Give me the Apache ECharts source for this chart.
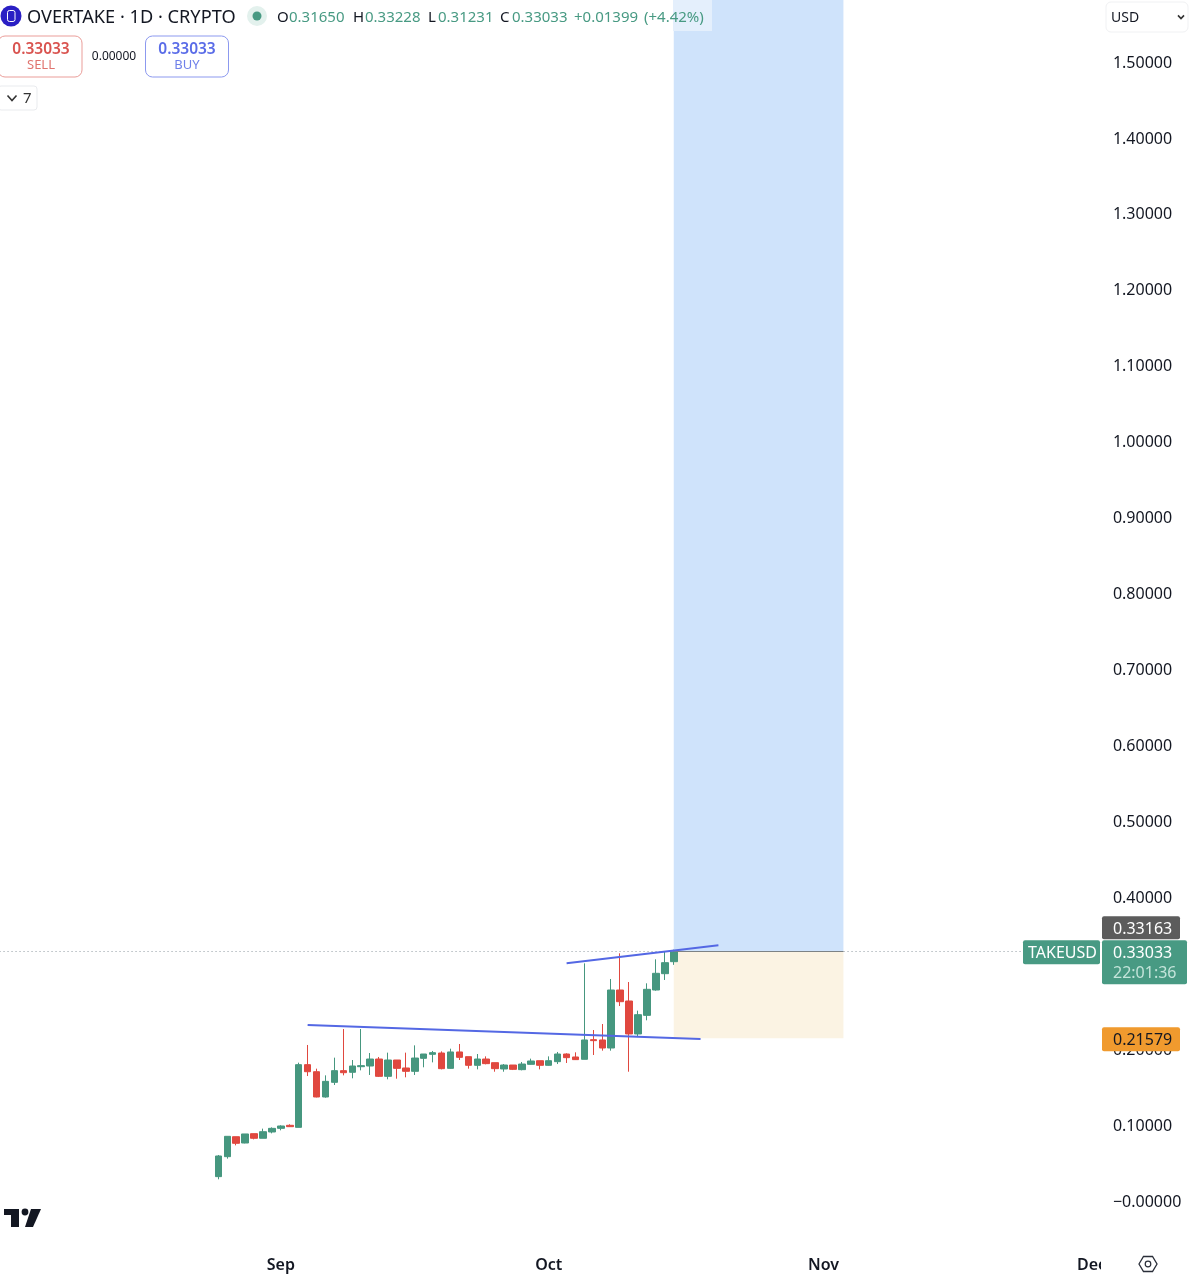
<!DOCTYPE html>
<html>
<head>
<meta charset="utf-8">
<style>html,body{margin:0;padding:0;background:#fff}#c{width:1193px;height:1280px}</style>
<script src="https://cdn.jsdelivr.net/npm/echarts@6/dist/echarts.min.js"></script>
</head>
<body>
<div id="c"></div>
<script>
// ---------- data ----------
const leadDays = 24;           // empty days before the first candle (Aug 1 .. Aug 24)
const firstDay = Date.UTC(2025, 7, 1);
const dayCount = 123;
const monthTicks = { '09-01': 'Sep', '10-01': 'Oct', '11-01': 'Nov', '12-01': 'Dec' };
const yTicksMin = -0.1, yTicksMax = 1.6, yInterval = 0.1;

// [open, close, low, high]
const ohlc = [
 [.0334,.0606,.0299,.0619],[.0597,.0865,.0571,.0865],[.0860,.0773,.0746,.0860],[.0777,.0896,.0773,.0896],
 [.0900,.0839,.0825,.0900],[.0839,.0926,.0839,.0966],[.0922,.0970,.0904,.0983],[.0970,.1001,.0944,.1010],
 [.1010,.0992,.0988,.1023],[.0983,.1809,.0983,.1835],[.1809,.1716,.1659,.2068],[.1716,.1383,.1378,.1756],
 [.1383,.1589,.1374,.1668],[.1576,.1730,.1541,.1901],[.1730,.1703,.1668,.2278],[.1708,.1791,.1629,.1870],
 [.1782,.1796,.1734,.2278],[.1791,.1883,.1673,.1962],[.1883,.1655,.1646,.1910],[.1655,.1870,.1616,.1967],
 [.1870,.1760,.1624,.1870],[.1765,.1721,.1642,.1967],[.1721,.1896,.1673,.2063],[.1892,.1949,.1774,.1949],
 [.1945,.1967,.1839,.1989],[.1962,.1756,.1747,.1984],[.1760,.1976,.1756,.2019],[.1976,.1905,.1870,.2081],
 [.1914,.1800,.1756,.1914],[.1800,.1883,.1747,.1949],[.1883,.1822,.1813,.1918],[.1835,.1756,.1716,.1835],
 [.1752,.1804,.1716,.1817],[.1804,.1747,.1738,.1804],[.1743,.1817,.1734,.1844],[.1813,.1857,.1809,.1888],
 [.1861,.1800,.1747,.1861],[.1800,.1861,.1796,.1918],[.1848,.1949,.1817,.1976],[.1949,.1901,.1831,.1958],
 [.1910,.1875,.1870,.1971],[.1879,.2134,.1879,.3143],[.2138,.2125,.1936,.2265],[.2134,.2028,.1993,.2344],
 [.2028,.2792,.1993,.2937],[.2792,.2638,.2581,.3275],[.2647,.2213,.1716,.2897],[.2213,.2467,.2186,.2520],
 [.2458,.2801,.2393,.2880],[.2792,.3012,.2783,.3196],[.3007,.3152,.2924,.3293],[.31650,.33033,.31231,.33228]
];
const lastPrice = 0.33033;
const stopPrice = 0.21579;
const targetPrice = 1.6;
const positionEndIdx = 70;     // candle-day index where the long-position box ends
const lowerTrend = [[10, .2331], [54, .2147]];
const upperTrend = [[39, .3144], [56, .3381]];

// ---------- colours ----------
const GREEN = '#46977f', RED = '#e0483f', INK = '#131722', TREND = '#5468e4';

const categories = [];
for (let i = 0; i < dayCount; i++) {
  const d = new Date(firstDay + i * 86400000);
  categories.push(String(d.getUTCMonth() + 1).padStart(2, '0') + '-' + String(d.getUTCDate()).padStart(2, '0'));
}
const seriesData = Array(leadDays).fill('-').concat(ohlc);
const cat = i => categories[leadDays + i];

const chart = echarts.init(document.getElementById('c'), null, { renderer: 'canvas' });
const FONT = '"Noto Sans"';
const monthLabelStyle = { color: INK, fontFamily: FONT, fontSize: 16, fontWeight: 600 };
chart.setOption({
  animation: false,
  backgroundColor: '#ffffff',
  grid: { left: -0.46, top: -12.88, width: 1098.39, height: 1290.81, containLabel: false, outerBoundsMode: 'none' },
  xAxis: {
    type: 'category', data: categories, boundaryGap: true,
    axisLine: { show: false }, axisTick: { show: false }, splitLine: { show: false },
    axisLabel: Object.assign({
      inside: true, margin: 4, hideOverlap: false,
      interval: (i, v) => v in monthTicks,
      formatter: v => {
        const t = monthTicks[v] || '';
        return (t === 'Nov' || t === 'Dec') ? '{late|' + t + '}' : t;
      },
      rich: { late: Object.assign({ padding: [0, 4, 0, 0] }, monthLabelStyle) }
    }, monthLabelStyle)
  },
  yAxis: {
    type: 'value', position: 'right', min: yTicksMin, max: yTicksMax, interval: yInterval,
    axisLine: { show: false }, axisTick: { show: false }, splitLine: { show: false },
    axisLabel: {
      margin: 15, color: INK, fontFamily: FONT, fontSize: 16, verticalAlign: 'middle', padding: [4, 0, 0, 0],
      showMinLabel: false, showMaxLabel: false,
      formatter: v => Math.abs(v) < 1e-9 ? '\u22120.00000' : v.toFixed(5)
    }
  },
  series: [
    {
      type: 'line', z: 1, data: [], silent: true, symbol: 'none',
      markArea: {
        silent: true,
        data: [
          [{ xAxis: cat(51), yAxis: lastPrice, itemStyle: { color: '#cfe3fb' } }, { xAxis: cat(positionEndIdx), yAxis: targetPrice }],
          [{ xAxis: cat(51), yAxis: stopPrice, itemStyle: { color: '#fbf3e3' } }, { xAxis: cat(positionEndIdx), yAxis: lastPrice }]
        ]
      }
    },
    {
      type: 'candlestick', z: 3, name: 'TAKEUSD', data: seriesData, barWidth: 7,
      itemStyle: { color: GREEN, color0: RED, borderColor: GREEN, borderColor0: RED, borderWidth: 1 }
    },
    {
      type: 'line', z: 4, data: [], silent: true, symbol: 'none',
      markLine: {
        silent: true, symbol: 'none', animation: false,
        label: { show: false },
        data: [
          { yAxis: lastPrice, lineStyle: { color: '#8f9aa0', type: [1, 3], width: 1 } },
          [{ coord: [cat(51), lastPrice], lineStyle: { color: '#7d8285', type: 'solid', width: 1 } }, { coord: [cat(positionEndIdx), lastPrice] }],
          [{ coord: [cat(lowerTrend[0][0]), lowerTrend[0][1]], lineStyle: { color: TREND, type: 'solid', width: 2 } }, { coord: [cat(lowerTrend[1][0]), lowerTrend[1][1]] }],
          [{ coord: [cat(upperTrend[0][0]), upperTrend[0][1]], lineStyle: { color: TREND, type: 'solid', width: 2 } }, { coord: [cat(upperTrend[1][0]), upperTrend[1][1]] }]
        ]
      }
    }
  ]
});

// ---------- overlay furniture (real text) ----------
const yOf = v => chart.convertToPixel({ yAxisIndex: 0 }, v);
const T = (text, x, y, size, fill, opt = {}) => ({
  type: 'text', z: 100,
  style: Object.assign({ text, x, y, fill, font: `${opt.weight || 400} ${size}px ${FONT}`, textAlign: opt.align || 'left', align: opt.align || 'left', textVerticalAlign: 'middle', verticalAlign: 'middle' })
});
const R = (x, y, w, h, fill, opt = {}) => ({
  type: 'rect', z: opt.z || 99, shape: { x, y, width: w, height: h, r: opt.r || 0 },
  style: { fill, stroke: opt.stroke || null, lineWidth: opt.stroke ? 1 : 0 }
});
const chevron = (cx, cy, color, w) => ({
  type: 'polyline', z: 100, shape: { points: [[cx - w, cy - w * 0.55], [cx, cy + w * 0.55], [cx + w, cy - w * 0.55]] },
  style: { stroke: color, lineWidth: 1.6, fill: null }
});

const yLast = yOf(lastPrice), yStop = yOf(stopPrice);
const yAsk = yLast - 24;       // the ask tag is stacked above the last-price tag
const SM = '#489a83';
const els = [
  // clipped month label
  R(1101, 1250, 30, 30, '#ffffff', { z: 98 }),
  // header
  { type: 'circle', z: 100, shape: { cx: 11, cy: 16, r: 10.5 }, style: { fill: '#2a1fc4' } },
  R(7.5, 10.5, 7.5, 11, 'none', { z: 101, stroke: '#ffffff', r: 2 }),
  T('OVERTAKE \u00b7 1D \u00b7 CRYPTO', 27, 18, 18.2, INK),
  { type: 'circle', z: 100, shape: { cx: 257, cy: 16, r: 10 }, style: { fill: '#e3f1ed' } },
  { type: 'circle', z: 101, shape: { cx: 257, cy: 16, r: 4.5 }, style: { fill: SM } },
  R(673, 0, 39, 31, '#e4effc', { z: 90 }),
  T('O', 277, 18, 15, INK), T('0.31650', 289, 18, 15, SM),
  T('H', 353, 18, 15, INK), T('0.33228', 365, 18, 15, SM),
  T('L', 428, 18, 15, INK), T('0.31231', 438, 18, 15, SM),
  T('C', 500, 18, 15, INK), T('0.33033', 512, 18, 15, SM),
  T('+0.01399', 574, 18, 15, SM), T('(+4.42%)', 644, 18, 15, SM),
  // sell / buy
  R(-2, 36, 84, 41, '#ffffff', { stroke: '#ea9d99', r: 7 }),
  T('0.33033', 41, 50, 15.5, '#d9534f', { align: 'center', weight: 600 }),
  T('SELL', 41, 65, 13, '#e0746f', { align: 'center' }),
  T('0.00000', 114, 57, 12, INK, { align: 'center' }),
  R(145.5, 36, 83, 41, '#ffffff', { stroke: '#8c99ef', r: 7 }),
  T('0.33033', 187, 50, 15.5, '#5a6ce8', { align: 'center', weight: 600 }),
  T('BUY', 187, 65, 13, '#6f80ea', { align: 'center' }),
  R(-2, 86, 39, 24, '#ffffff', { stroke: '#e9ebee', r: 3 }),
  chevron(12, 98, '#333', 4.5),
  T('7', 23, 99, 15, '#333'),
  // currency box
  R(1106, 2, 82, 30, '#ffffff', { stroke: '#f0f1f3', r: 5 }),
  T('USD', 1111, 18, 14, INK),
  chevron(1181, 17, '#333', 3),
  // price tags
  R(1102, yAsk - 11, 78, 23, '#5c5c5c', { r: 2 }),
  T('0.33163', 1113, yAsk + 2, 16, '#ffffff'),
  R(1023, yLast - 11, 77, 24, SM, { r: 2 }),
  T('TAKEUSD', 1028, yLast + 2, 16, '#ffffff'),
  R(1102, yLast - 11, 85, 44, SM, { r: 2 }),
  T('0.33033', 1113, yLast + 2, 16, '#ffffff'),
  T('22:01:36', 1113, yLast + 22, 16, '#c4e4da'),
  R(1102, yStop - 11, 78, 24, '#f09a2e', { r: 2 }),
  T('0.21579', 1113, yStop + 2, 16, INK),
  // TradingView logo
  { type: 'polygon', z: 100, shape: { points: [[4, 1209], [19, 1209], [19, 1227], [11, 1227], [11, 1215], [4, 1215]] }, style: { fill: INK } },
  { type: 'circle', z: 100, shape: { cx: 25, cy: 1212, r: 3.4 }, style: { fill: INK } },
  { type: 'polygon', z: 100, shape: { points: [[31, 1209], [41, 1209], [33, 1227], [25, 1227]] }, style: { fill: INK } },
  // settings hexagon
  { type: 'polygon', z: 100, shape: { points: [[1139, 1264], [1143.5, 1256.5], [1152.5, 1256.5], [1157, 1264], [1152.5, 1271.5], [1143.5, 1271.5]] }, style: { fill: null, stroke: '#2a2e39', lineWidth: 1.3 } },
  { type: 'circle', z: 100, shape: { cx: 1148, cy: 1264, r: 2.8 }, style: { fill: null, stroke: '#2a2e39', lineWidth: 1.2 } }
];
chart.setOption({ graphic: { elements: els } });
</script>
</body>
</html>
